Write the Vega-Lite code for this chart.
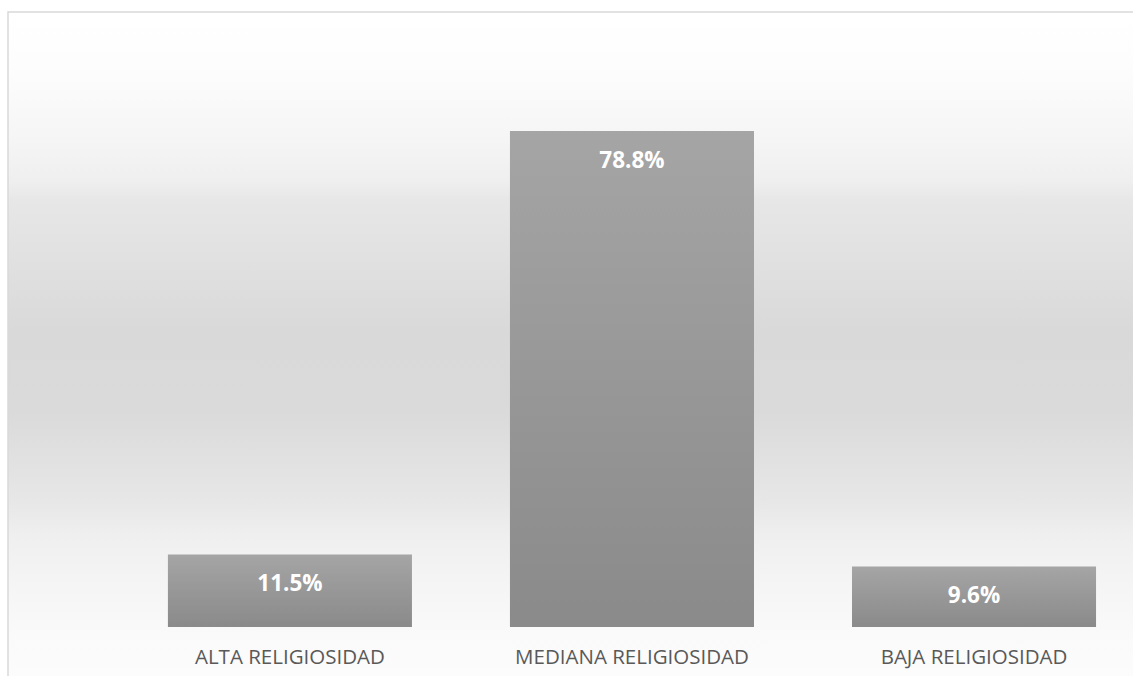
{
  "$schema": "https://vega.github.io/schema/vega-lite/v6.json",
  "autosize": {"type": "none"},
  "padding": {"left": 8, "top": 12, "right": -2, "bottom": -2},
  "width": 1127,
  "height": 666,
  "background": "#ffffff",
  "config": {
    "view": {
      "stroke": "#d9d9d9",
      "strokeWidth": 1.5,
      "fill": {
        "gradient": "linear",
        "x1": 0, "y1": 0, "x2": 0, "y2": 1,
        "stops": [
          {"offset": 0, "color": "#ffffff"},
          {"offset": 0.081, "color": "#fdfdfd"},
          {"offset": 0.182, "color": "#f6f6f6"},
          {"offset": 0.253, "color": "#efefef"},
          {"offset": 0.283, "color": "#e7e7e7"},
          {"offset": 0.48, "color": "#d9d9d9"},
          {"offset": 0.6, "color": "#dadada"},
          {"offset": 0.735, "color": "#e7e7e7"},
          {"offset": 0.786, "color": "#efefef"},
          {"offset": 0.836, "color": "#f3f3f3"},
          {"offset": 0.936, "color": "#fafafa"},
          {"offset": 1, "color": "#fcfcfc"}
        ]
      }
    }
  },
  "data": {
    "values": [
      {"categoria": "ALTA RELIGIOSIDAD", "porcentaje": 0.115},
      {"categoria": "MEDIANA RELIGIOSIDAD", "porcentaje": 0.788},
      {"categoria": "BAJA RELIGIOSIDAD", "porcentaje": 0.096}
    ]
  },
  "encoding": {
    "x": {
      "field": "categoria",
      "type": "nominal",
      "sort": null,
      "scale": {"paddingInner": 0.2865, "paddingOuter": 0.2907, "align": 0.8041, "round": false},
      "axis": {
        "title": null,
        "orient": "bottom",
        "offset": -21,
        "domain": false,
        "ticks": false,
        "tickSize": 0,
        "grid": false,
        "labelPadding": 0,
        "labelBaseline": "middle",
        "labelAngle": 0,
        "labelFont": "Open Sans",
        "labelFontSize": 20.5,
        "labelColor": "#595959",
        "labelLimit": 0
      }
    },
    "y": {
      "field": "porcentaje",
      "type": "quantitative",
      "scale": {"domain": [-0.08103, 0.9771], "nice": false, "zero": false},
      "axis": null
    }
  },
  "layer": [
    {
      "mark": {
        "type": "bar",
        "color": {
          "gradient": "linear",
          "x1": 0, "y1": 0, "x2": 0, "y2": 1,
          "stops": [
            {"offset": 0, "color": "#a5a5a5"},
            {"offset": 1, "color": "#8a8a8a"}
          ]
        }
      },
      "encoding": {
        "y2": {"datum": 0}
      }
    },
    {
      "mark": {
        "type": "text",
        "baseline": "middle",
        "align": "center",
        "dy": 29.5,
        "font": "Open Sans",
        "fontSize": 22.5,
        "fontWeight": "bold",
        "color": "#ffffff"
      },
      "encoding": {
        "text": {"field": "porcentaje", "type": "quantitative", "format": ".1%"}
      }
    }
  ]
}
